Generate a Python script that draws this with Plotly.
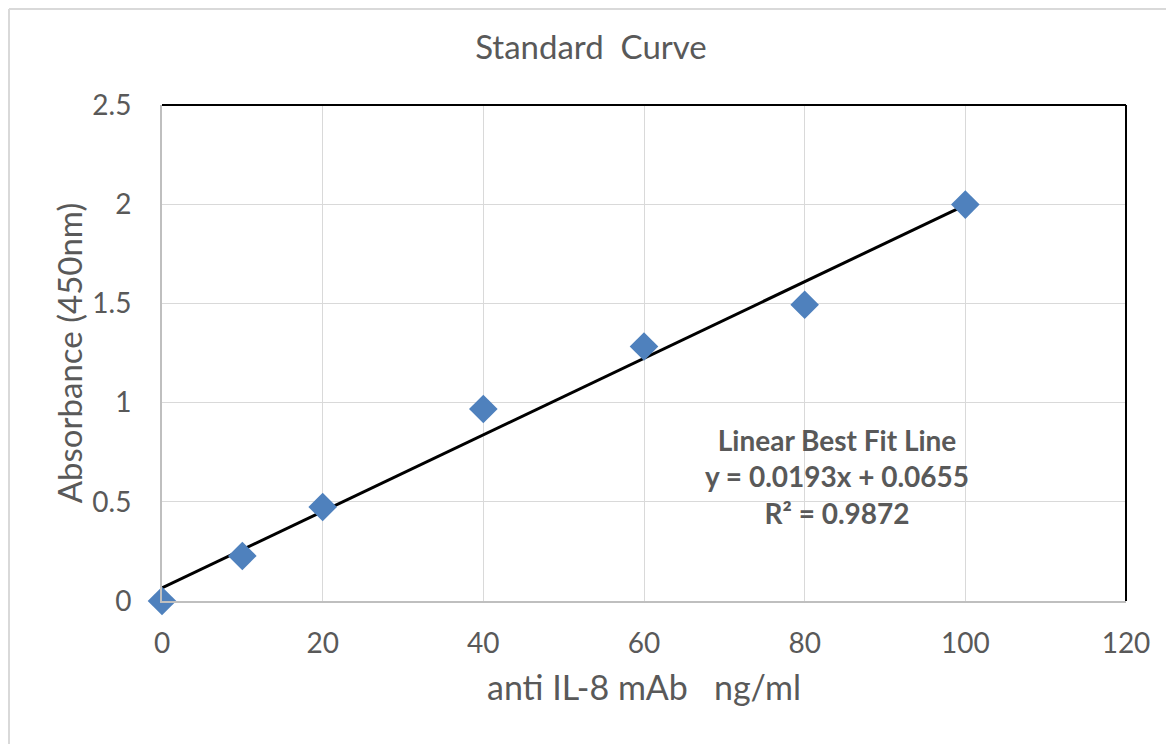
import plotly.graph_objects as go

# Data
concentration = [0, 10, 20, 40, 60, 80, 100]
absorbance = [0.0, 0.227, 0.474, 0.968, 1.283, 1.493, 1.998]
slope = 0.0193
intercept = 0.0655
r_squared = 0.9872
fit_x = [0, 100]
fit_y = [slope * x + intercept for x in fit_x]

x_ticks = [0, 20, 40, 60, 80, 100, 120]
y_ticks = [0, 0.5, 1, 1.5, 2, 2.5]
y_tick_text = ["0", "0.5", "1", "1.5", "2", "2.5"]

FONT = "Lato, 'Open Sans', sans-serif"
TXT = "#595959"

fig = go.Figure()
fig.add_trace(go.Scatter(
    x=fit_x, y=fit_y, mode="lines",
    line=dict(color="black", width=3), showlegend=False, hoverinfo="skip"))
fig.add_trace(go.Scatter(
    x=concentration, y=absorbance, mode="markers",
    marker=dict(symbol="diamond", size=22, color="#4F81BD"),
    showlegend=False, cliponaxis=False))

fig.add_annotation(
    x=84, y=0.63, xref="x", yref="y", showarrow=False,
    text=("<b>Linear Best Fit Line</b><br><b>y = %.4fx + %.4f</b><br><b>R² = %.4f</b>"
          % (slope, intercept, r_squared)),
    font=dict(family=FONT, size=28, color=TXT), align="center")

# plot-area border (top/right black)
fig.add_shape(type="line", xref="paper", yref="paper", x0=0, x1=1, y0=1, y1=1,
              line=dict(color="black", width=2))
fig.add_shape(type="line", xref="paper", yref="paper", x0=1, x1=1, y0=0, y1=1,
              line=dict(color="black", width=2))
# outer chart border
fig.add_shape(type="line", xref="paper", yref="paper", x0=-0.1587, x1=1.1, y0=1.1935, y1=1.1935,
              line=dict(color="#D9D9D9", width=2))
fig.add_shape(type="line", xref="paper", yref="paper", x0=-0.1587, x1=-0.1587, y0=-0.4, y1=1.1935,
              line=dict(color="#D9D9D9", width=2))

fig.update_layout(
    width=1166, height=736,
    margin=dict(l=154, r=48, t=97, b=143),
    paper_bgcolor="white", plot_bgcolor="white",
    font=dict(family=FONT, color=TXT),
    title=dict(text="Standard\u00a0\u00a0Curve", x=0.5, xref="container",
               y=0.946, yref="container", xanchor="center", yanchor="middle",
               font=dict(family=FONT, size=33, color=TXT)),
    xaxis=dict(range=[0, 120], tickvals=x_ticks, showgrid=True, gridcolor="#D9D9D9",
               gridwidth=1, zeroline=False, showline=True, linecolor="#BFBFBF", linewidth=2,
               ticks="", ticklabelstandoff=16, tickfont=dict(family=FONT, size=28, color=TXT),
               title=dict(text="anti IL-8 mAb\u00a0\u00a0\u00a0ng/ml", standoff=19,
                          font=dict(family=FONT, size=34, color=TXT))),
    yaxis=dict(range=[0, 2.5], tickvals=y_ticks, ticktext=y_tick_text, showgrid=True,
               gridcolor="#D9D9D9", gridwidth=1, zeroline=False, showline=True,
               linecolor="#BFBFBF", linewidth=2, ticks="", ticklabelstandoff=23,
               tickfont=dict(family=FONT, size=28, color=TXT),
               title=dict(text="Absorbance (450nm)", standoff=0,
                          font=dict(family=FONT, size=33, color=TXT))),
)

fig.write_html("out.html")
